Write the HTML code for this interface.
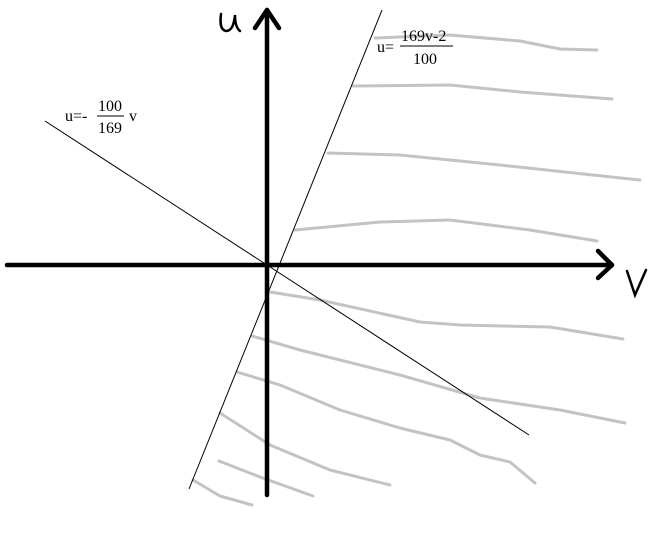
<!DOCTYPE html>
<html><head><meta charset="utf-8"><style>
html,body{margin:0;padding:0;background:#fff;}
svg{display:block;}
</style></head><body>
<svg width="660" height="533" viewBox="0 0 660 533" xmlns="http://www.w3.org/2000/svg">
<g fill="none" stroke="#c3c3c3" stroke-width="3" stroke-linecap="round" stroke-linejoin="round">
<polyline points="375,38 450,35 520,41 560,49 597,50"/>
<polyline points="353,86 450,85 520,92 612,99"/>
<polyline points="328,153 400,155 500,165 640,180"/>
<polyline points="295,230 380,222 450,220 530,230 597,241"/>
<polyline points="270,292 320,300 420,322 460,325 550,327 623,339"/>
<polyline points="252,336 300,350 400,375 480,398 560,410 625,423"/>
<polyline points="237,372 280,385 340,410 400,428 450,440 480,455 510,462 535,483"/>
<polyline points="220,413 270,445 330,470 390,485"/>
<polyline points="219,461 260,477 313,496"/>
<polyline points="193,480 220,496 252,505"/>
</g>
<line x1="45" y1="121" x2="529" y2="435" stroke="#000" stroke-width="1"/>
<line x1="382" y1="10" x2="189" y2="489" stroke="#000" stroke-width="1"/>
<g stroke="#000" stroke-width="4.5" stroke-linecap="round" stroke-linejoin="round" fill="none">
<line x1="7" y1="265" x2="612" y2="265"/>
<polyline points="598,251 612,265 598,278"/>
<line x1="267" y1="10" x2="267" y2="495"/>
<polyline points="255,28 267,10 279,28"/>
</g>
<path d="M221,14 C220,22 220,30 226,31 C232,31 234,24 235,15 C235,22 236,28 240,31" fill="none" stroke="#000" stroke-width="2.5" stroke-linecap="round"/>
<path d="M627,271 L635,295 L646,270" fill="none" stroke="#000" stroke-width="2.5" stroke-linecap="round"/>
<g font-family="Liberation Serif, serif" font-size="16" fill="#000">
<text x="377" y="52">u=</text>
<text x="401" y="41">169v-2</text>
<line x1="400" y1="46" x2="453" y2="46" stroke="#000" stroke-width="1"/>
<text x="413" y="64">100</text>
<text x="65" y="121">u=-</text>
<text x="98" y="111">100</text>
<line x1="97" y1="116" x2="124" y2="116" stroke="#000" stroke-width="1"/>
<text x="98" y="133">169</text>
<text x="129" y="121">v</text>
</g>
</svg>
</body></html>
